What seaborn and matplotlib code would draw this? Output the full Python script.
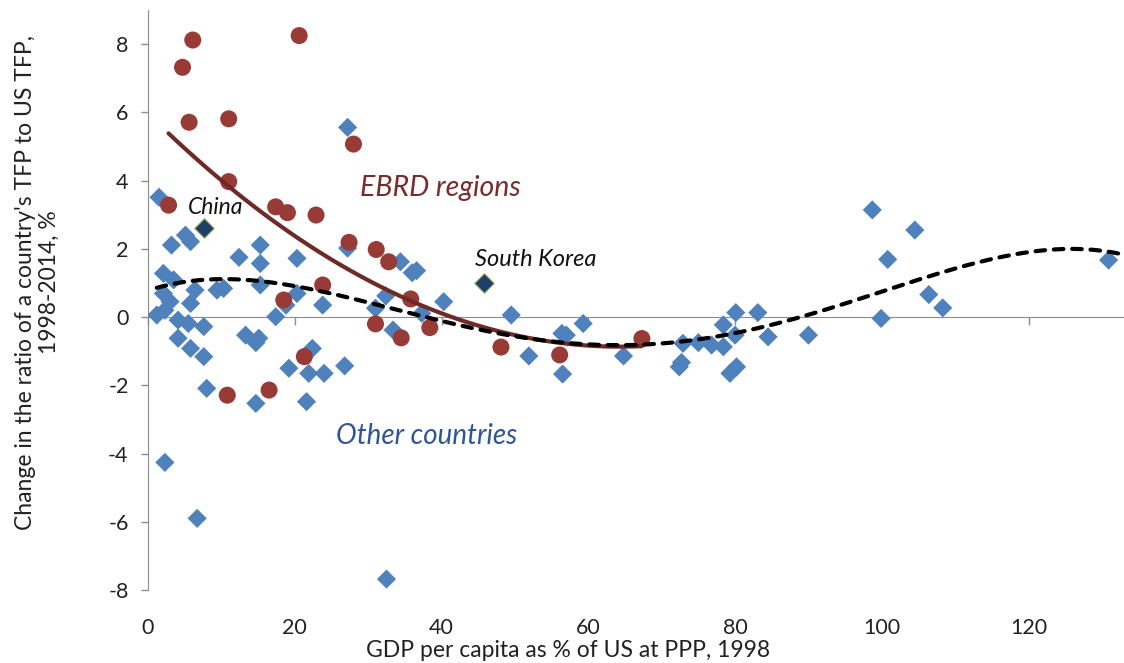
import numpy as np
import pandas as pd
import matplotlib
matplotlib.use("Agg")
import matplotlib.pyplot as plt
import seaborn as sns

# --- EBRD regions: GDP per capita (% of US, 1998) vs change in TFP ratio (%)
ebrd_gdp = [6.1, 4.7, 5.6, 11.0, 11.0, 2.8, 17.4, 19.0, 22.9, 20.6, 28.0, 27.4, 31.1,
            32.8, 23.8, 18.5, 35.8, 31.0, 34.5, 38.4, 48.1, 21.3, 10.8, 16.5, 56.1, 67.3]
ebrd_tfp = [8.12, 7.32, 5.71, 5.81, 3.97, 3.28, 3.23, 3.06, 2.99, 8.25, 5.07, 2.19, 1.98,
            1.62, 0.94, 0.50, 0.53, -0.20, -0.61, -0.31, -0.88, -1.16, -2.29, -2.14, -1.11, -0.63]

# --- Other countries
other_gdp = [1.5, 3.2, 5.1, 5.8, 2.1, 3.5, 2.1, 3.0, 1.2, 2.3, 6.4, 5.8, 9.4, 10.3,
             4.1, 5.5, 7.6, 4.1, 5.8, 7.6, 8.0, 2.3, 6.7, 15.3, 12.4, 15.3, 20.3, 15.3,
             20.3, 18.8, 17.4, 23.8, 13.3, 14.7, 15.1, 22.4, 19.2, 21.9, 24.0, 14.7, 21.6,
             26.8, 27.2, 27.2, 34.4, 36.6, 36.0, 32.4, 40.3, 31.0, 33.4, 37.3, 32.5, 49.5,
             51.9, 56.4, 57.0, 56.5, 59.3, 64.8, 72.9, 72.4, 72.7, 75.0, 76.8, 78.4, 78.4,
             80.1, 80.0, 80.2, 79.3, 83.1, 84.5, 90.0, 98.7, 104.5, 100.8, 99.9, 106.4,
             108.3, 130.9]
other_tfp = [3.51, 2.11, 2.40, 2.21, 1.28, 1.09, 0.69, 0.45, 0.06, 0.20, 0.79, 0.40, 0.79, 0.84,
             -0.09, -0.19, -0.28, -0.62, -0.92, -1.16, -2.09, -4.26, -5.90, 2.11, 1.75, 1.57, 1.72, 0.94,
             0.69, 0.35, 0.01, 0.35, -0.53, -0.75, -0.62, -0.92, -1.50, -1.65, -1.65, -2.53, -2.48,
             -1.43, 5.56, 2.02, 1.62, 1.36, 1.30, 0.62, 0.45, 0.26, -0.38, 0.11, -7.68, 0.06,
             -1.14, -0.48, -0.53, -1.67, -0.19, -1.14, -0.77, -1.46, -1.33, -0.75, -0.82, -0.87, -0.23,
             0.13, -0.53, -1.46, -1.65, 0.13, -0.58, -0.53, 3.14, 2.55, 1.69, -0.04, 0.66,
             0.27, 1.67]

# --- Highlighted economies
named = ["China", "South Korea"]
named_gdp = [7.6, 45.8]
named_tfp = [2.62, 0.99]

x_ticks = [0, 20, 40, 60, 80, 100, 120]
y_ticks = [-8, -6, -4, -2, 0, 2, 4, 6, 8]

BLUE = "#4f81bd"
NAVY = "#1f3d6b"
RED = "#983a36"
MAROON = "#6e2a27"
AXIS = "#8c8c8c"
TEXT = "#222222"

sns.set_style("white")
plt.rcParams["font.family"] = ["Lato", "DejaVu Sans"]

fig = plt.figure(figsize=(11.24, 6.63), dpi=100)
ax = fig.add_axes([148 / 1124, 73 / 663, 976 / 1124, 580 / 663])
ax.set_xlim(0, 133)
ax.set_ylim(-8, 9)

other = pd.DataFrame({"gdp": other_gdp, "tfp": other_tfp})
ebrd = pd.DataFrame({"gdp": ebrd_gdp, "tfp": ebrd_tfp})
hl = pd.DataFrame({"gdp": named_gdp, "tfp": named_tfp, "name": named})
everything = pd.concat([other, hl[["gdp", "tfp"]], ebrd], ignore_index=True)

sns.scatterplot(data=other, x="gdp", y="tfp", marker="D", s=95, color=BLUE,
                edgecolor="none", linewidth=0, ax=ax, zorder=3)
sns.scatterplot(data=hl, x="gdp", y="tfp", marker="D", s=95, color=NAVY,
                edgecolor="#7a9a4a", linewidth=0.8, ax=ax, zorder=3)
sns.scatterplot(data=ebrd, x="gdp", y="tfp", marker="o", s=150, color=RED,
                edgecolor="none", linewidth=0, ax=ax, zorder=4)

# quadratic trend over the EBRD regions
sns.regplot(data=ebrd, x="gdp", y="tfp", order=2, ci=None, scatter=False,
            truncate=True, color=MAROON, line_kws={"linewidth": 3.0, "zorder": 5,
                                                   "solid_capstyle": "round"}, ax=ax)

# fourth-order trend over all economies, carried to the right edge
coef = np.polyfit(everything["gdp"], everything["tfp"], 4)
trend = pd.DataFrame({"gdp": np.linspace(everything["gdp"].min(), 133, 240)})
trend["tfp"] = np.polyval(coef, trend["gdp"])
sns.lineplot(data=trend, x="gdp", y="tfp", sort=False, estimator=None, color="black",
             linewidth=3.0, ax=ax, zorder=6)
ax.lines[-1].set_linestyle((0, (2.3, 2.1)))
ax.lines[-1].set_dash_capstyle("round")

ax.set_xlim(0, 133)
ax.set_ylim(-8, 9)

# vertical axis at x=0, horizontal axis line at y=0
for side in ["top", "right"]:
    ax.spines[side].set_visible(False)
ax.spines["left"].set_color(AXIS)
ax.spines["bottom"].set_color(AXIS)
ax.spines["bottom"].set_position(("data", 0))

ax.set_yticks(y_ticks)
ax.set_yticklabels([str(v) for v in y_ticks])
ax.tick_params(axis="y", direction="out", length=5, width=1, color=AXIS,
               labelsize=15.5, labelcolor=TEXT, pad=9, left=True)
ax.set_xticks(x_ticks)
ax.tick_params(axis="x", direction="out", length=6, width=1, color=AXIS,
               labelbottom=False, bottom=True)

# tick labels sit below the plot, away from the zero line
sec = ax.secondary_xaxis("bottom")
sec.set_xticks(x_ticks)
sec.set_xticklabels([str(v) for v in x_ticks])
sec.spines["bottom"].set_visible(False)
sec.tick_params(axis="x", length=0, labelsize=15.5, labelcolor=TEXT, pad=20)

ax.set_xlabel("GDP per capita as % of US at PPP, 1998", fontsize=16.5, color=TEXT)
ax.xaxis.set_label_coords(0.430, -0.087)
ax.set_ylabel("Change in the ratio of a country's TFP to US TFP,\n1998-2014, %",
              fontsize=16.5, color=TEXT, linespacing=1.2)
ax.yaxis.set_label_coords(-0.090, 0.531)

ax.text(9.2, 3.2, "China", fontsize=16.5, style="italic", color="#111111",
        ha="center", va="center", zorder=8)
ax.text(52.9, 1.7, "South Korea", fontsize=17, style="italic", color="#111111",
        ha="center", va="center", zorder=8)
ax.text(39.8, 3.78, "EBRD regions", fontsize=20.5, style="italic", color="#7a2c2a",
        ha="center", va="center", zorder=8)
ax.text(38.0, -3.49, "Other countries", fontsize=20, style="italic", color="#2f5597",
        ha="center", va="center", zorder=8)

fig.savefig("out.png", dpi=100)
